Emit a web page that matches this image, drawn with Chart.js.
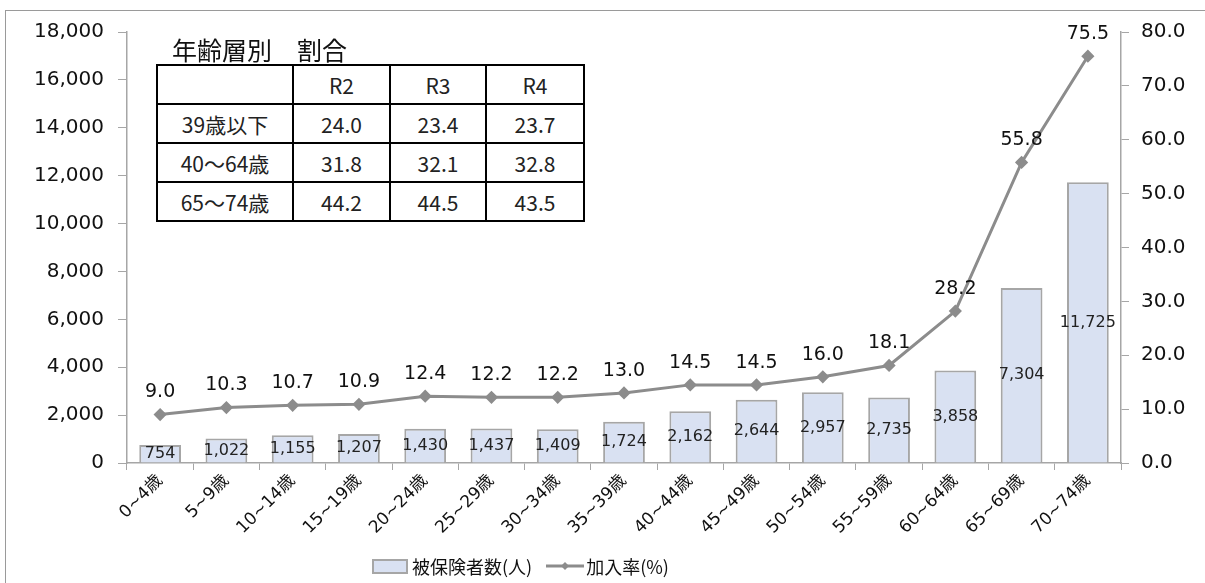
<!DOCTYPE html>
<html>
<head>
<meta charset="utf-8">
<script src="https://cdn.jsdelivr.net/npm/chart.js@4"></script>
<style>
  body { margin: 0; background: #fff; }
  #wrap { position: relative; width: 1205px; height: 583px; overflow: hidden; }
  #frame { position: absolute; left: 5px; top: 10px; right: -2px; bottom: -2px;
           border-top: 1px solid #9a9a9a; border-left: 1px solid #9a9a9a; }
  #chart { position: absolute; left: 0; top: 0; }
  #title { position: absolute; left: 172px; top: 31px; font: 25px "Noto Sans CJK JP"; color: #111; white-space: pre; }
  #share { position: absolute; left: 156px; top: 64px; border-collapse: collapse; background: #fff;
           font: 21px "Noto Sans CJK JP"; color: #222; }
  #share td { border: 2px solid #000; text-align: center; padding: 0; height: 37px; }
  #legend { position: absolute; left: 372px; top: 553px; font: 18px "Noto Sans CJK JP"; color: #111;
            display: flex; align-items: center; }
  .swatch { display: inline-block; width: 32px; height: 11px; background: #d9e1f2; border: 2px solid #a6a6a6; margin-right: 4px; }
</style>
</head>
<body>
<div id="wrap">
  <div id="frame"></div>
  <canvas id="chart" width="1205" height="583"></canvas>
  <div id="title">年齢層別　割合</div>
  <table id="share"></table>
  <div id="legend">
    <span class="swatch"></span><span>被保険者数(人)</span>
    <svg width="38" height="14" style="margin-left:14px;margin-right:2px"><line x1="0" y1="7" x2="38" y2="7" stroke="#8c8c8c" stroke-width="3"/><polygon points="19,3 23,7 19,11 15,7" fill="#8c8c8c"/></svg><span>加入率(%)</span>
  </div>
</div>
<script>
const ageGroups = ['0~4歳', '5~9歳', '10~14歳', '15~19歳', '20~24歳', '25~29歳', '30~34歳', '35~39歳',
                   '40~44歳', '45~49歳', '50~54歳', '55~59歳', '60~64歳', '65~69歳', '70~74歳'];
const insured = [754, 1022, 1155, 1207, 1430, 1437, 1409, 1724, 2162, 2644, 2957, 2735, 3858, 7304, 11725];
const joinRate = [9.0, 10.3, 10.7, 10.9, 12.4, 12.2, 12.2, 13.0, 14.5, 14.5, 16.0, 18.1, 28.2, 55.8, 75.5];

// 年齢層別 割合 table
const tableYears = ['R2', 'R3', 'R4'];
const tableGroups = ['39歳以下', '40～64歳', '65～74歳'];
const shareUnder39 = [24.0, 23.4, 23.7];
const share40to64 = [31.8, 32.1, 32.8];
const share65to74 = [44.2, 44.5, 43.5];

const colWidths = [134, 95, 94, 96];
const shareRows = [shareUnder39, share40to64, share65to74];
let html = '<tr><td style="width:' + colWidths[0] + 'px"></td>';
tableYears.forEach((y, i) => { html += '<td style="width:' + colWidths[i + 1] + 'px">' + y + '</td>'; });
html += '</tr>';
tableGroups.forEach((g, r) => {
    html += '<tr><td>' + g + '</td>';
    shareRows[r].forEach(v => { html += '<td>' + v.toFixed(1) + '</td>'; });
    html += '</tr>';
});
document.getElementById('share').innerHTML = html;

const numFont = "'DejaVu Sans', 'Noto Sans CJK JP'";

const valueLabels = {
    id: 'valueLabels',
    afterDatasetsDraw(chart) {
        const ctx = chart.ctx;
        ctx.save();
        ctx.textAlign = 'center';
        ctx.textBaseline = 'middle';
        ctx.fillStyle = '#222';
        ctx.font = '16px ' + numFont;
        chart.getDatasetMeta(0).data.forEach((bar, i) => {
            ctx.fillText(insured[i].toLocaleString('en-US'), bar.x, (bar.y + bar.base) / 2);
        });
        ctx.fillStyle = '#111';
        ctx.font = '19px ' + numFont;
        chart.getDatasetMeta(1).data.forEach((pt, i) => {
            ctx.fillText(joinRate[i].toFixed(1), pt.x, pt.y - 22);
        });
        ctx.restore();
    }
};

new Chart(document.getElementById('chart'), {
    type: 'bar',
    data: {
        labels: ageGroups,
        datasets: [
            {
                label: '被保険者数(人)',
                data: insured,
                backgroundColor: '#d9e1f2',
                borderColor: '#a6a6a6',
                borderWidth: 2,
                barPercentage: 0.63,
                categoryPercentage: 1,
                yAxisID: 'y',
                order: 1,
            },
            {
                type: 'line',
                label: '加入率(%)',
                data: joinRate,
                borderColor: '#8c8c8c',
                backgroundColor: '#8c8c8c',
                borderWidth: 3,
                pointStyle: 'rectRot',
                pointRadius: 4.5,
                tension: 0,
                yAxisID: 'y1',
                order: 0,
            },
        ],
    },
    options: {
        responsive: false,
        animation: false,
        layout: { padding: { top: 32, left: 0, right: 0, bottom: 0 } },
        plugins: { legend: { display: false }, tooltip: { enabled: false } },
        scales: {
            x: {
                grid: { drawOnChartArea: false, offset: true, color: '#a6a6a6', tickLength: 7 },
                border: { color: '#a6a6a6', width: 1.5 },
                ticks: { autoSkip: false, minRotation: 45, maxRotation: 45, color: '#111', padding: 1,
                         font: { size: 17, family: numFont } },
                afterFit: s => { s.height = 120; },
            },
            y: {
                position: 'left',
                min: 0, max: 18000,
                grid: { drawOnChartArea: false, color: '#a6a6a6', tickLength: 9 },
                border: { color: '#a6a6a6', width: 1.5 },
                ticks: { stepSize: 2000, color: '#111', padding: 14, font: { size: 20, family: numFont },
                         callback: v => v.toLocaleString('en-US') },
                afterFit: s => { s.width = 127; },
            },
            y1: {
                position: 'right',
                min: 0, max: 80,
                grid: { drawOnChartArea: false, color: '#a6a6a6', tickLength: 8 },
                border: { color: '#a6a6a6', width: 1.5 },
                ticks: { stepSize: 10, color: '#111', padding: 12, font: { size: 20, family: numFont },
                         callback: v => v.toFixed(1) },
                afterFit: s => { s.width = 84; },
            },
        },
    },
    plugins: [valueLabels],
});
</script>
</body>
</html>
